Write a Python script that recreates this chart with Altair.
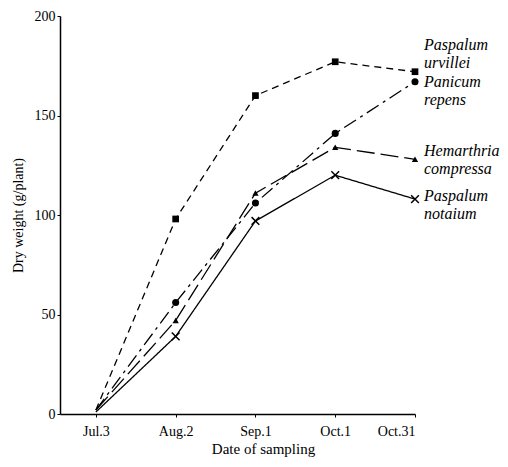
import altair as alt
import pandas as pd

days = [0, 30, 60, 90, 120]
date_labels = ["Jul.3", "Aug.2", "Sep.1", "Oct.1", "Oct.31"]

series_names = ["Paspalum urvillei", "Panicum repens", "Hemarthria compressa", "Paspalum notatum"]
label_line1 = ["Paspalum", "Panicum", "Hemarthria", "Paspalum"]
label_line2 = ["urvillei", "repens", "compressa", "notaium"]

urvillei = [2, 98, 160, 177, 172]
repens = [2, 56, 106, 141, 167]
hemarthria = [2, 47, 111, 134, 128]
notatum = [1, 39, 97, 120, 108]
values = [urvillei, repens, hemarthria, notatum]

dashes = [[7, 5], [14, 5, 3, 5], [18, 6], [1, 0]]
shapes = ["square", "circle", "triangle-up", "M-1,-1L1,1M-1,1L1,-1"]
filled = [True, True, True, False]
sizes = [45, 50, 40, 60]
dy1 = [-27, 0, -8, -3]

FONT = "Liberation Serif"
label_map = "{" + ",".join(f"'{d}':'{l}'" for d, l in zip(days, date_labels)) + "}"

xscale = alt.Scale(domain=[-13.5, 120], nice=False, zero=False)
yscale = alt.Scale(domain=[0, 200], nice=False)

xenc = alt.X("day:Q", scale=xscale, axis=alt.Axis(
    values=days, labelExpr=f"{label_map}[datum.value]", title="Date of sampling",
    grid=False, domainColor="black", tickColor="black", tickSize=3,
    labelFont=FONT, labelFontSize=14, labelColor="black", labelPadding=7,
    titleFont=FONT, titleFontSize=15, titleFontWeight="normal", titleColor="black",
    titlePadding=3, titleX=203, domainWidth=1.5))
yenc = alt.Y("weight:Q", scale=yscale, axis=alt.Axis(
    values=[0, 50, 100, 150, 200], title="Dry weight (g/plant)",
    grid=False, domainColor="black", tickColor="black", tickSize=3,
    labelFont=FONT, labelFontSize=14, labelColor="black", labelPadding=2,
    titleFont=FONT, titleFontSize=14, titleFontWeight="normal", titleColor="black",
    titlePadding=9, domainWidth=1.5))

layers = []
for i, name in enumerate(series_names):
    df = pd.DataFrame({"day": days, "weight": values[i], "series": name})
    base = alt.Chart(df)
    line = base.mark_line(color="black", strokeWidth=1.3, strokeDash=dashes[i]).encode(x=xenc, y=yenc)
    pts = base.transform_filter("datum.day > 0").mark_point(
        shape=shapes[i], filled=filled[i], color="black", size=sizes[i],
        opacity=1, strokeWidth=1.5).encode(x=xenc, y=yenc)
    last = pd.DataFrame({"day": [days[-1]], "weight": [values[i][-1]],
                         "l1": [label_line1[i]], "l2": [label_line2[i]]})
    t1 = alt.Chart(last).mark_text(align="left", baseline="middle", dx=9, dy=dy1[i],
                                   font=FONT, fontSize=16, fontStyle="italic", color="black"
                                   ).encode(x=xenc, y=yenc, text="l1:N")
    t2 = alt.Chart(last).mark_text(align="left", baseline="middle", dx=9, dy=dy1[i] + 18,
                                   font=FONT, fontSize=16, fontStyle="italic", color="black"
                                   ).encode(x=xenc, y=yenc, text="l2:N")
    layers += [line, pts, t1, t2]

chart = alt.layer(*layers).properties(
    width=355, height=398,
    autosize=alt.AutoSizeParams(type="none"),
    padding={"left": 52, "top": 8, "right": 85, "bottom": 45},
    background="white",
).configure_view(stroke=None)

chart.save("out.html", embed_options={"renderer": "svg", "actions": False})
